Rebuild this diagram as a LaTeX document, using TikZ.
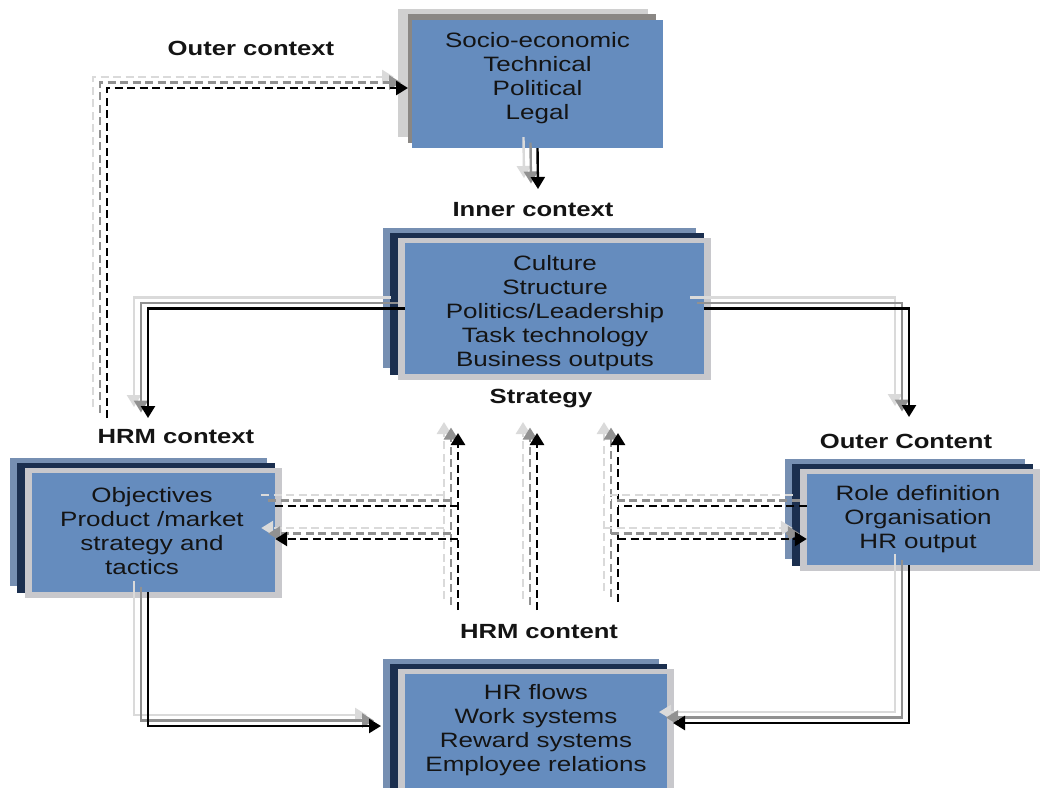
\documentclass[tikz,border=0pt]{standalone}
\usepackage{fontspec}
\setmainfont{Liberation Sans}[FakeStretch=1.25]
\usetikzlibrary{arrows.meta,calc}

\definecolor{frontblue}{RGB}{101,140,190}
\definecolor{backsteel}{RGB}{118,143,178}
\definecolor{backnavy}{RGB}{27,47,79}
\definecolor{frame}{RGB}{200,200,204}
\definecolor{shadelight}{RGB}{208,208,208}
\definecolor{shadedark}{RGB}{138,135,132}
\definecolor{ghostmid}{RGB}{145,145,145}
\definecolor{ghostlight}{RGB}{218,218,218}
\definecolor{inktext}{RGB}{20,20,20}

\tikzset{
  boxtext/.style={align=center, inner sep=0pt, text=inktext,
    font=\fontsize{20.8}{24}\selectfont},
  title/.style={inner sep=0pt, text=inktext,
    font=\bfseries\fontsize{20.5}{24}\selectfont},
  front/.style={fill=frontblue, inner sep=0pt, draw=none},
  link/.style={line width=2.4pt, -{Triangle[length=12pt,width=14pt]}},
  dashlink/.style={line width=2.7pt, dash pattern=on 8pt off 4.5pt,
    -{Triangle[length=12pt,width=14pt]}},
  dashplain/.style={line width=2.7pt, dash pattern=on 8pt off 4.5pt},
}

% a connector drawn with two paler echoes behind it, up and to the left
\newcommand\shadowed[2]{%
  \draw[#1, draw=ghostlight, transform canvas={xshift=-14pt,yshift=11pt}] #2;
  \draw[#1, draw=ghostmid, transform canvas={xshift=-7pt,yshift=5.5pt}] #2;
  \draw[#1, draw=black] #2;}

% stacked box: steel and navy sheets behind, grey frame, blue front face
\newcommand\layeredbox[5]{%
  \fill[backsteel] (#2-22,#3-15) rectangle (#4-8,#5-6);
  \fill[backnavy] (#2-15,#3-10) rectangle (#4,#5+1);
  \fill[frame] (#2-7,#3-5) rectangle (#4+7,#5+6);
  \node[front, minimum width={(#4-#2)*1pt}, minimum height={(#5-#3)*1pt}]
    (#1) at ({(#2+#4)/2},{(#3+#5)/2}) {};}

\begin{document}
\begin{tikzpicture}[x=1pt,y=-1pt]
\useasboundingbox (0,0) rectangle (1041,787);
\clip (0,0) rectangle (1041,787);
\fill[white] (0,0) rectangle (1041,787);

% outer context box (grey sheets)
\fill[shadelight] (398,9) rectangle (648,137);
\fill[shadedark] (408,14) rectangle (656,143);
\node[front, minimum width=251pt, minimum height=128pt] (b1) at (537.5,84) {};
\node[boxtext] (b1t) at (537.5,78) {Socio-economic\\Technical\\Political\\Legal};

% inner context
\layeredbox{b2}{405}{243}{704}{374}
\node[boxtext] (b2t) at (555,313)
  {Culture\\Structure\\Politics/Leadership\\Task technology\\Business outputs};

% HRM context
\layeredbox{b3}{32}{473}{275}{592}
\node[boxtext] (b3t) at (152,531)
  {Objectives\\Product /market\\strategy and\\tactics\kern20pt};

% outer content
\layeredbox{b4}{807}{474}{1033}{565}
\node[boxtext] (b4t) at (918,519) {Role definition\\Organisation\\HR output};

% HRM content
\layeredbox{b5}{405}{674}{667}{800}
\node[boxtext] (b5t) at (536,730.5)
  {HR flows\\Work systems\\Reward systems\\Employee relations};

% headings
\node[title] (tOuter) at (251,48) {Outer context};
\node[title] (tInner) at (533,210) {Inner context};
\node[title] (tStrat) at (541,399) {Strategy};
\node[title] (tHrmCtx) at (176,437) {HRM context};
\node[title] (tOutCont) at (906,441) {Outer Content};
\node[title] (tHrmCont) at (539,632) {HRM content};

% connector ends and bends
\coordinate (k1s) at (107,418);
\coordinate (k1e) at (408,88);
\coordinate (k2e) at (538,189);
\coordinate (k3) at (148,418);
\coordinate (k4) at (909,417);
\coordinate (k5) at (381,726);
\coordinate (k6) at (673,723);
\coordinate (sL0) at (458,610);
\coordinate (sL1) at (458,433);
\coordinate (sM0) at (537,610);
\coordinate (sM1) at (537,433);
\coordinate (sR0) at (618,602);
\coordinate (sR1) at (618,433);
\coordinate (r1) at (0,506);
\coordinate (r2) at (0,539);

% solid flows
\shadowed{link}{(b1.south) -- (k2e)}
\shadowed{link}{(b2.west) -| (k3)}
\shadowed{link}{(b2.east) -| (k4)}
\shadowed{link}{(k3 |- b3.south) |- (k5)}
\shadowed{link}{(k4 |- b4.south) |- (k6)}

% dashed feedback
\shadowed{dashlink}{(k1s) |- (k1e)}
\shadowed{dashlink}{(sL0) -- (sL1)}
\shadowed{dashlink}{(sM0) -- (sM1)}
\shadowed{dashlink}{(sR0) -- (sR1)}
\shadowed{dashplain}{(b3.east |- r1) -- (sL0 |- r1)}
\shadowed{dashlink}{(sL0 |- r2) -- (b3.east |- r2)}
\shadowed{dashplain}{(b4.west |- r1) -- (sR0 |- r1)}
\shadowed{dashlink}{(sR0 |- r2) -- (b4.west |- r2)}
\end{tikzpicture}
\end{document}
